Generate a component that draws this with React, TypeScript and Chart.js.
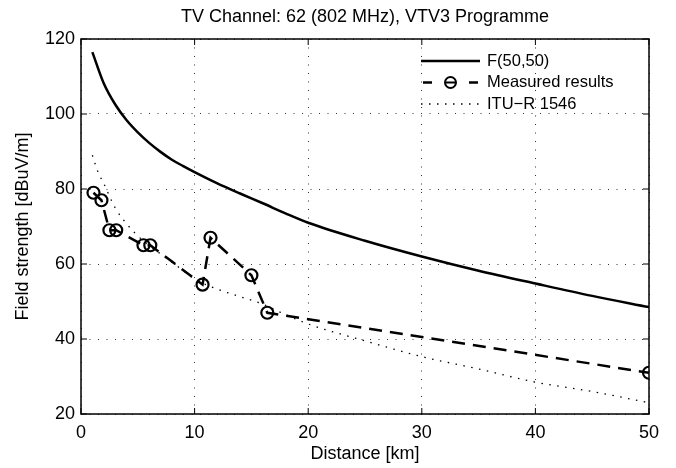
import React, { useEffect, useRef } from "react";
import { Chart, registerables } from "chart.js";

Chart.register(...registerables);

const TITLE = "TV Channel: 62 (802 MHz), VTV3 Programme";
const X_LABEL = "Distance [km]";
const Y_LABEL = "Field strength [dBuV/m]";

const xTicks = [0, 10, 20, 30, 40, 50];
const yTicks = [20, 40, 60, 80, 100, 120];

const fLabel = "F(50,50)";
const fDist = [1, 2, 3, 4, 5, 6, 7, 8, 9, 10, 12, 14, 16, 18, 20, 25, 30, 35, 40, 45, 50];
const fVal = [116.5, 108.2, 102.6, 98.4, 95.1, 92.3, 89.9, 87.8, 86.1, 84.5, 81.5, 78.8, 76.2, 73.5, 71, 66.2, 62, 58.2, 54.8, 51.5, 48.5];

const mLabel = "Measured results";
const mDist = [1.1, 1.8, 2.5, 3.1, 5.5, 6.1, 10.7, 11.4, 15, 16.4, 50];
const mVal = [79, 77, 69, 69, 65, 65, 54.5, 67, 57, 47, 31];

const iLabel = "ITU\u2212R 1546";
const iDist = [1, 1.5, 2, 3, 4, 5, 6, 7, 8, 9, 10, 12, 14, 16, 18, 20, 25, 30, 35, 40, 45, 50];
const iVal = [89, 84.5, 81.5, 75, 70.8, 67.5, 65, 62.7, 60.5, 58.2, 56, 53.3, 51.3, 49.3, 46.5, 44, 39.5, 35.3, 32, 28.5, 26, 23];

const FONT = "'Liberation Sans', Arial, Helvetica, sans-serif";
const FS = 18;
const LEG_FS = 16.5;

const toPts = (xs: number[], ys: number[]) => xs.map((x, i) => ({ x, y: ys[i] }));

const framePlugin = {
  id: "frame",
  afterDraw(chart: any) {
    const { ctx, chartArea: a, scales } = chart;
    ctx.save();
    ctx.strokeStyle = "#000";
    ctx.lineWidth = 1.5;
    ctx.setLineDash([]);
    ctx.strokeRect(a.left, a.top, a.right - a.left, a.bottom - a.top);
    const tl = 6;
    ctx.lineWidth = 1;
    ctx.beginPath();
    for (const v of xTicks) {
      const px = scales.x.getPixelForValue(v);
      ctx.moveTo(px, a.bottom);
      ctx.lineTo(px, a.bottom - tl);
      ctx.moveTo(px, a.top);
      ctx.lineTo(px, a.top + tl);
    }
    for (const v of yTicks) {
      const py = scales.y.getPixelForValue(v);
      ctx.moveTo(a.left, py);
      ctx.lineTo(a.left + tl, py);
      ctx.moveTo(a.right, py);
      ctx.lineTo(a.right - tl, py);
    }
    ctx.stroke();

    ctx.fillStyle = "#000";
    ctx.font = `${FS}px ${FONT}`;
    ctx.textAlign = "center";
    ctx.textBaseline = "middle";
    ctx.fillText(TITLE, (a.left + a.right) / 2, 17);

    ctx.font = `${LEG_FS}px ${FONT}`;
    const lx0 = 421;
    const lx1 = 480;
    const tx = 487;
    const rows = [61, 82.5, 104];
    ctx.textAlign = "left";
    ctx.strokeStyle = "#000";
    ctx.lineWidth = 2.4;
    ctx.beginPath();
    ctx.moveTo(lx0, rows[0]);
    ctx.lineTo(lx1, rows[0]);
    ctx.stroke();
    ctx.fillText(fLabel, tx, rows[0]);
    ctx.beginPath();
    ctx.moveTo(lx0 + 2, rows[1]);
    ctx.lineTo(lx0 + 11, rows[1]);
    ctx.moveTo(lx1 - 11, rows[1]);
    ctx.lineTo(lx1 - 2, rows[1]);
    ctx.stroke();
    ctx.lineWidth = 2;
    ctx.beginPath();
    ctx.arc((lx0 + lx1) / 2, rows[1], 5.5, 0, Math.PI * 2);
    ctx.moveTo((lx0 + lx1) / 2 - 5.5, rows[1]);
    ctx.lineTo((lx0 + lx1) / 2 + 5.5, rows[1]);
    ctx.stroke();
    ctx.fillText(mLabel, tx, rows[1]);
    ctx.lineWidth = 1.3;
    ctx.setLineDash([1.5, 6.5]);
    ctx.beginPath();
    ctx.moveTo(lx0, rows[2]);
    ctx.lineTo(lx1, rows[2]);
    ctx.stroke();
    ctx.setLineDash([]);
    ctx.fillText(iLabel, tx, rows[2]);
    ctx.restore();
  },
};

export default function App() {
  const ref = useRef<HTMLCanvasElement | null>(null);
  useEffect(() => {
    if (!ref.current) return;
    const chart = new Chart(ref.current, {
      type: "scatter",
      data: {
        datasets: [
          {
            label: iLabel,
            data: toPts(iDist, iVal),
            showLine: true,
            borderColor: "#000",
            borderWidth: 1.3,
            borderDash: [1.5, 6.5],
            pointRadius: 0,
            cubicInterpolationMode: "monotone",
          },
          {
            label: fLabel,
            data: toPts(fDist, fVal),
            showLine: true,
            borderColor: "#000",
            borderWidth: 2.5,
            pointRadius: 0,
            cubicInterpolationMode: "monotone",
          },
          {
            label: mLabel,
            data: toPts(mDist, mVal),
            showLine: true,
            borderColor: "#000",
            borderWidth: 2.5,
            borderDash: [13, 8],
            pointRadius: 6,
            pointBorderWidth: 2.2,
            pointBackgroundColor: "rgba(0,0,0,0)",
            pointBorderColor: "#000",
            tension: 0,
          },
        ],
      },
      options: {
        responsive: false,
        animation: false,
        events: [],
        layout: { padding: { top: 39, right: 27, left: 0, bottom: 0 } },
        plugins: {
          legend: { display: false },
          title: { display: false },
          tooltip: { enabled: false },
        },
        scales: {
          x: {
            type: "linear",
            min: 0,
            max: 50,
            afterBuildTicks: (s: any) => {
              s.ticks = xTicks.map((v) => ({ value: v }));
            },
            afterFit: (s: any) => {
              s.height = 54;
            },
            border: { display: false, dash: [1, 7.5] },
            grid: {
              color: "#333",
              lineWidth: 1,
              drawTicks: false,
            },
            ticks: {
              padding: 8,
              color: "#000",
              font: { family: FONT, size: FS },
            },
            title: {
              display: true,
              text: X_LABEL,
              color: "#000",
              font: { family: FONT, size: FS },
              padding: { top: 0, bottom: 3 },
            },
          },
          y: {
            type: "linear",
            min: 20,
            max: 120,
            afterBuildTicks: (s: any) => {
              s.ticks = yTicks.map((v) => ({ value: v }));
            },
            afterFit: (s: any) => {
              s.width = 81;
            },
            border: { display: false, dash: [1, 7.5] },
            grid: {
              color: "#333",
              lineWidth: 1,
              drawTicks: false,
            },
            ticks: {
              padding: 6,
              color: "#000",
              font: { family: FONT, size: FS },
            },
            title: {
              display: true,
              text: Y_LABEL,
              color: "#000",
              font: { family: FONT, size: FS },
              padding: { top: 12, bottom: 0 },
            },
          },
        },
      },
      plugins: [framePlugin],
    } as any);
    return () => chart.destroy();
  }, []);
  return (
    <div style={{ position: "fixed", left: 0, top: 0, width: 676, height: 468, background: "#fff" }}>
      <canvas ref={ref} width={676} height={468} style={{ width: 676, height: 468 }} />
    </div>
  );
}
